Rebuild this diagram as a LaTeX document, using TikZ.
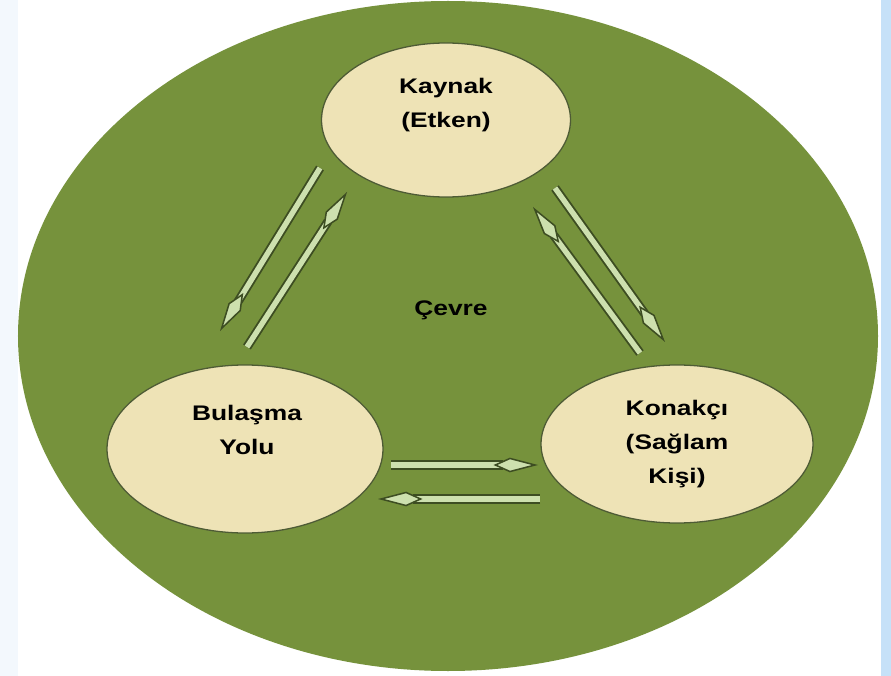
\documentclass[tikz,border=0pt]{standalone}
\usepackage{fontspec}
\newfontfamily\diagfont[FakeStretch=1.25]{Liberation Sans}
\usetikzlibrary{arrows.meta,calc,shapes.geometric}
\definecolor{envgreen}{HTML}{76923C}
\definecolor{blobfill}{HTML}{EEE3B6}
\definecolor{blobdraw}{HTML}{4E5B35}
\definecolor{flowfill}{HTML}{CDE0AE}
\definecolor{flowdraw}{HTML}{3D4D22}
\definecolor{edgeleft}{HTML}{F3F8FD}
\definecolor{edgeright}{HTML}{C6E1F8}
\tikzset{
  blob/.style={
    ellipse,
    draw=blobdraw,
    line width=1.1pt,
    fill=blobfill,
    inner sep=0pt,
  },
  blobtext/.style={
    font=\diagfont\fontsize{18}{29}\selectfont\bfseries,
    align=center,
    inner sep=0pt,
  },
  flow/.style={
    draw=flowdraw,
    line width=1.6pt,
    double=flowfill,
    double distance=4.6pt,
    -{Kite[length=38pt, width=12.5pt, inset=14pt, fill=flowfill, line width=1.3pt]},
  },
}

\begin{document}
\begin{tikzpicture}[x=0.3mm, y=-0.3mm]
  \useasboundingbox (0,0) rectangle (891,676);
  \fill[white] (0,0) rectangle (891,676);
  \fill[edgeleft] (0,0) rectangle (18,676);
  \fill[edgeright] (881,0) rectangle (891,676);

  \node[ellipse, fill=envgreen, inner sep=0pt, minimum width=258mm, minimum height=201mm] (environment) at (448,336) {};
  \node[blob, minimum width=74.7mm, minimum height=46.2mm] (source) at (446,120) {};
  \node[blob, minimum width=82.8mm, minimum height=50.4mm] (route) at (245,449) {};
  \node[blob, minimum width=81.6mm, minimum height=47.4mm] (host) at (677,444) {};

  \node[blobtext] (sourcetext) at ($(source)+(0,-15)$) {Kaynak\\(Etken)};
  \node[blobtext] (routetext) at ($(route)+(2,-19)$) {Bulaşma\\Yolu};
  \node[blobtext] (hosttext) at (host) {Konakçı\\(Sağlam\\Kişi)};
  \node[blobtext] (envtext) at (451,310) {Çevre};

  % arrow ends, in pairs
  \coordinate (sr1) at (320,168); \coordinate (sr2) at (220,331);
  \coordinate (rs1) at (247,347); \coordinate (rs2) at (347,192);
  \coordinate (sh1) at (555,188); \coordinate (sh2) at (665,342);
  \coordinate (hs1) at (640,353); \coordinate (hs2) at (533,207);
  \coordinate (rh1) at (391,465); \coordinate (rh2) at (538,465);
  \coordinate (hr1) at (540,499); \coordinate (hr2) at (378,499);

  \foreach \from/\to in {sr1/sr2, rs1/rs2, sh1/sh2, hs1/hs2, rh1/rh2, hr1/hr2}
    \draw[flow] (\from) -- (\to);
\end{tikzpicture}
\end{document}
